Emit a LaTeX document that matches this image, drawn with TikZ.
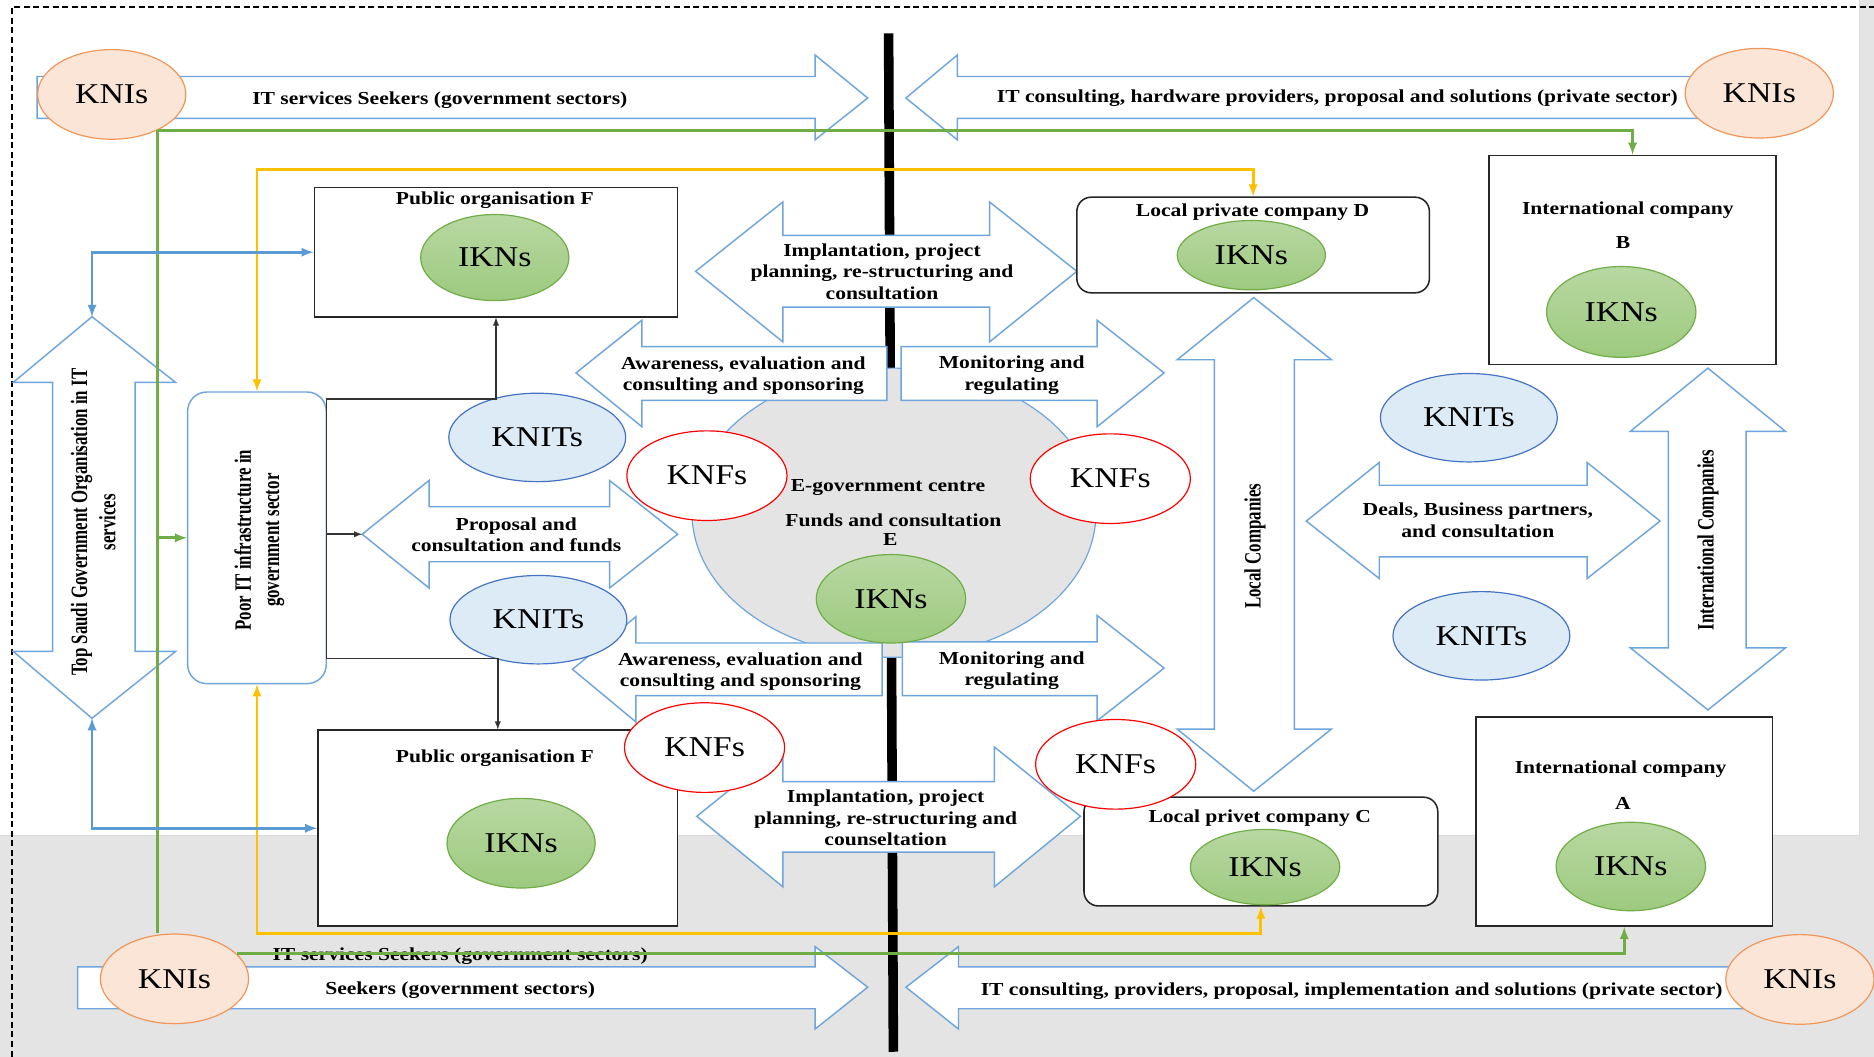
\documentclass[tikz,border=0pt]{standalone}
\usepackage{fontspec}
\setmainfont{Liberation Serif}[FakeStretch=1.18]
\newfontfamily\rotfont{Liberation Serif}[FakeStretch=0.72]
\usepackage{xcolor}
\usepackage{tikz}
\usetikzlibrary{shapes.geometric, arrows}

\definecolor{bggray}{RGB}{228,228,228}
\definecolor{arrowblue}{RGB}{110,165,220}
\definecolor{linegreen}{RGB}{112,173,71}
\definecolor{lineyellow}{RGB}{255,192,0}
\definecolor{lineblue}{RGB}{91,155,213}
\definecolor{knifill}{RGB}{251,229,214}
\definecolor{kniline}{RGB}{240,150,90}
\definecolor{ikntop}{RGB}{184,216,162}
\definecolor{iknbot}{RGB}{157,202,127}
\definecolor{iknline}{RGB}{112,173,71}
\definecolor{knitfill}{RGB}{221,235,247}
\definecolor{knitline}{RGB}{68,114,196}
\definecolor{centrefill}{RGB}{228,228,228}

\tikzset{
  blockarrow/.style={draw=arrowblue, fill=white, line width=1.2pt},
  box/.style={rectangle, draw=black!85, fill=white, line width=1.3pt, inner sep=0pt},
  roundbox/.style={box, rounded corners=12pt},
  bigtext/.style={font=\fontsize{24}{28}\selectfont},
  kni/.style={ellipse, bigtext, draw=kniline, fill=knifill, line width=1pt, inner sep=0pt,
    minimum width=124pt, minimum height=75pt},
  ikn/.style={ellipse, bigtext, draw=iknline, top color=ikntop, bottom color=iknbot,
    line width=1pt, inner sep=0pt},
  knit/.style={ellipse, bigtext, draw=knitline, fill=knitfill, line width=1pt, inner sep=0pt,
    minimum width=148pt, minimum height=74pt},
  knf/.style={ellipse, bigtext, draw=red, fill=white, line width=1pt, inner sep=0pt,
    minimum width=134pt, minimum height=75pt},
  lbl/.style={font=\bfseries\fontsize{15.3}{18}\selectfont, align=center, inner sep=0pt},
  rotlbl/.style={font=\rotfont\bfseries\fontsize{19.6}{23.5}\selectfont, align=center,
    inner sep=0pt, rotate=90},
  gline/.style={draw=linegreen, line width=2.4pt},
  yline/.style={draw=lineyellow, line width=2.4pt},
  bline/.style={draw=lineblue, line width=2.4pt},
  kline/.style={draw=black!80, line width=1.3pt}
}

\begin{document}
\begin{tikzpicture}[x=1pt, y=-1pt]
    \useasboundingbox (0,0) rectangle (1568,884);

    % background and frame
    \fill[bggray] (0,0) rectangle (1568,884);
    \draw[fill=white, draw=black!15] (-2,-2) rectangle (1556,699);
    \draw[dash pattern=on 5pt off 3pt, line width=1.5pt] (10,884) -- (10,6) -- (1568,6);

    % dividing bar
    \draw[line width=8pt] (743.5,28) -- (747.5,880);

    % e-government centre
    \node[ellipse, draw=arrowblue, fill=centrefill, line width=1pt,
          minimum width=338pt, minimum height=242pt] (egov) at (748,429) {};

    % block arrows
    \draw[blockarrow] (31,64) -- (682,64) -- (682,46) -- (726,82) -- (682,117) -- (682,99) -- (31,99) -- cycle;
    \draw[blockarrow] (1440,64) -- (801,64) -- (801,46) -- (758,82) -- (801,117) -- (801,99) -- (1440,99) -- cycle;
    \draw[blockarrow] (582,227) -- (655,169) -- (655,197) -- (828,197) -- (828,169) -- (901,227)
                      -- (828,286) -- (828,257) -- (655,257) -- (655,286) -- cycle;
    \draw[blockarrow] (482,312) -- (537,268) -- (537,290) -- (742,290) -- (742,335) -- (537,335) -- (537,357) -- cycle;
    \draw[blockarrow] (754,290) -- (918,290) -- (918,268) -- (974,312) -- (918,357) -- (918,335) -- (754,335) -- cycle;
    \draw[blockarrow] (303,447) -- (359,402) -- (359,424) -- (510,424) -- (510,402) -- (567,447)
                      -- (510,492) -- (510,470) -- (359,470) -- (359,492) -- cycle;
    \draw[blockarrow] (479,560) -- (532,516) -- (532,538) -- (738,538) -- (738,582) -- (532,582) -- (532,604) -- cycle;
    \draw[blockarrow] (755,537) -- (918,537) -- (918,515) -- (974,559) -- (918,603) -- (918,582) -- (755,582) -- cycle;
    \draw[blockarrow] (583,683) -- (655,625) -- (655,654) -- (832,654) -- (832,625) -- (904,683)
                      -- (832,742) -- (832,713) -- (655,713) -- (655,742) -- cycle;
    \draw[blockarrow] (1093,436) -- (1154,387) -- (1154,406) -- (1328,406) -- (1328,387) -- (1389,436)
                      -- (1328,484) -- (1328,466) -- (1154,466) -- (1154,484) -- cycle;
    \draw[blockarrow] (77,265) -- (147,320) -- (113,320) -- (113,545) -- (147,545) -- (77,601)
                      -- (11,545) -- (44,545) -- (44,320) -- (11,320) -- cycle;
    \draw[blockarrow] (1049,249) -- (1114,301) -- (1083,301) -- (1083,610) -- (1114,610) -- (1049,662)
                      -- (985,610) -- (1016,610) -- (1016,301) -- (985,301) -- cycle;
    \draw[blockarrow] (1429,308) -- (1494,361) -- (1461,361) -- (1461,542) -- (1494,542) -- (1429,594)
                      -- (1364,542) -- (1396,542) -- (1396,361) -- (1364,361) -- cycle;
    \draw[blockarrow] (65,809) -- (682,809) -- (682,792) -- (726,826) -- (682,861) -- (682,844) -- (65,844) -- cycle;
    \draw[blockarrow] (1470,809) -- (802,809) -- (802,792) -- (758,826) -- (802,861) -- (802,844) -- (1470,844) -- cycle;

    % organisations
    \node[box, minimum width=304pt, minimum height=108pt] (pubF1) at (415,211) {};
    \node[box, minimum width=301pt, minimum height=164pt] (pubF2) at (416.5,693) {};
    \node[roundbox, minimum width=295pt, minimum height=80pt] (locD) at (1048.5,205) {};
    \node[box, minimum width=240pt, minimum height=175pt] (intB) at (1366,217.5) {};
    \node[roundbox, minimum width=296pt, minimum height=91pt] (locC) at (1055,712.5) {};
    \node[box, minimum width=248pt, minimum height=175pt] (intA) at (1359,687.5) {};
    \node[roundbox, draw=arrowblue, line width=1.2pt, rounded corners=16pt,
          minimum width=116pt, minimum height=244pt] (poor) at (215,450) {};

    \node[lbl] (tPubF1) at (414,167.5) {Public organisation F};
    \node[lbl] (tPubF2) at (414,634.5) {Public organisation F};
    \node[lbl] (tLocD) at (1048,177.5) {Local private company D};
    \node[lbl] (tIntB) at (1362,175.5) {International company};
    \node[lbl] (tB) at (1358,203) {B};
    \node[lbl] (tLocC) at (1054,684.5) {Local privet company C};
    \node[lbl] (tIntA) at (1356,643.5) {International company};
    \node[lbl] (tA) at (1358,672.5) {A};

    % knowledge nodes
    \node[ikn, minimum width=124pt, minimum height=72pt] (iknF1) at (414,215.5) {IKNs};
    \node[ikn, minimum width=124pt, minimum height=75pt] (iknF2) at (436,705.5) {IKNs};
    \node[ikn, minimum width=124pt, minimum height=58pt] (iknD) at (1047,213.5) {IKNs};
    \node[ikn, minimum width=125pt, minimum height=76pt] (iknB) at (1356.5,261) {IKNs};
    \node[ikn, minimum width=125pt, minimum height=74pt] (iknE) at (745.5,501) {IKNs};
    \node[ikn, minimum width=125pt, minimum height=63pt] (iknC) at (1058.5,725.5) {IKNs};
    \node[ikn, minimum width=125pt, minimum height=74pt] (iknA) at (1364.5,725) {IKNs};

    \node[knit] (knit1) at (449.5,366) {KNITs};
    \node[knit] (knit2) at (450.5,518.5) {KNITs};
    \node[knit] (knit3) at (1229,349.5) {KNITs};
    \node[knit] (knit4) at (1239.5,532) {KNITs};

    \node[knf] (knf1) at (591.5,398) {KNFs};
    \node[knf] (knf2) at (929,400.5) {KNFs};
    \node[knf] (knf3) at (589.5,625.5) {KNFs};
    \node[knf] (knf4) at (933.5,639.5) {KNFs};

    \node[kni] (kniTL) at (93.5,79) {KNIs};
    \node[kni] (kniTR) at (1472,78) {KNIs};
    \node[kni] (kniBL) at (146,819) {KNIs};
    \node[kni] (kniBR) at (1506,819.5) {KNIs};

    % arrow labels
    \node[lbl] (tSeekTop) at (368,83.5) {IT services Seekers (government sectors)};
    \node[lbl] (tConsTop) at (1119,82.5) {IT consulting, hardware providers, proposal and solutions (private sector)};
    \node[lbl] (tImpTop) at (738,227) {Implantation, project\\planning, re-structuring and\\consultation};
    \node[lbl] (tAwTop) at (622,314.5) {Awareness, evaluation and\\consulting and sponsoring};
    \node[lbl] (tMonTop) at (846.5,314) {Monitoring and\\regulating};
    \node[lbl] (tProp) at (432,447.5) {Proposal and\\consultation and funds};
    \node[lbl] (tDeals) at (1236.5,435.5) {Deals, Business partners,\\and consultation};
    \node[lbl] (tAwBot) at (619.5,562) {Awareness, evaluation and\\consulting and sponsoring};
    \node[lbl] (tMonBot) at (846.5,561) {Monitoring and\\regulating};
    \node[lbl] (tImpBot) at (741,684.5) {Implantation, project\\planning, re-structuring and\\counseltation};
    \node[lbl] (tSeekBot) at (385,800) {IT services Seekers (government sectors)};
    \node[lbl] (tSeekArr) at (385,828.5) {Seekers (government sectors)};
    \node[lbl] (tConsBot) at (1131,829) {IT consulting, providers, proposal, implementation and solutions (private sector)};

    \node[lbl] (tEgov) at (743,408) {E-government centre};
    \node[lbl] (tFunds) at (747.5,435) {Funds and consultation};
    \node[lbl] (tE) at (745,451) {E};

    \node[rotlbl] (tSaudi) at (78,437) {Top Saudi Government Organisation in IT\\services};
    \node[rotlbl] (tPoor) at (217,452) {Poor IT infrastructure in\\government sector};
    \node[rotlbl] (tLocal) at (1050,457) {Local Companies};
    \node[rotlbl] (tInter) at (1429,452) {International Companies};

    % connectors
    \coordinate (yTop) at (215,142);
    \coordinate (yBot) at (215,781);
    \coordinate (saudiTop) at (77,265);
    \coordinate (saudiBot) at (77,601);
    \coordinate (kTop) at (273,334);
    \coordinate (kBot) at (273,551);
    \coordinate (propTail) at (303,447);

    \draw[gline,-latex] (kniTL.-38) -| (intB.north);
    \draw[gline] (kniTL.-38) -- (kniTL.-38 |- kniBL.north);
    \draw[gline,-latex] (kniTL.-38 |- poor.west) -- (poor.west);
    \draw[gline,-latex] (kniBL.22) -| (intA.south);

    \draw[yline,latex-latex] (poor.north) -- (yTop) -| (locD.north);
    \draw[yline,latex-latex] (poor.south) -- (yBot) -| (locC.south);

    \draw[bline,latex-latex] (saudiTop) |- (pubF1.west);
    \draw[bline,latex-latex] (saudiBot) |- (pubF2.west);

    \draw[kline,-latex] (kTop) -| (pubF1.south);
    \draw[kline] (kTop) -- (kBot);
    \draw[kline,-latex] (kBot) -| (pubF2.north);
    \draw[kline,-latex] (kTop |- propTail) -- (propTail);
\end{tikzpicture}
\end{document}
